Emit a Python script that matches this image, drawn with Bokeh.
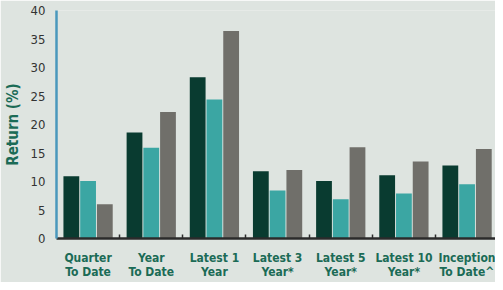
import numpy as np
from bokeh.plotting import figure
from bokeh.models import ColumnDataSource, Range1d, FixedTicker
from bokeh.transform import dodge
from bokeh.embed import file_html
from bokeh.resources import INLINE

categories = ["Quarter\nTo Date", "Year\nTo Date", "Latest 1\nYear", "Latest 3\nYear*",
              "Latest 5\nYear*", "Latest 10\nYear*", "Inception\nTo Date^"]
series_a = [10.9, 18.6, 28.3, 11.8, 10.1, 11.1, 12.8]
series_b = [10.1, 15.9, 24.4, 8.4, 6.9, 7.9, 9.5]
series_c = [6.0, 22.2, 36.4, 12.0, 16.0, 13.5, 15.7]
y_ticks = [0, 5, 10, 15, 20, 25, 30, 35, 40]

colors = ["#093b30", "#3ba6a3", "#706f6a"]
offsets = [-0.265, 0.0, 0.265]
bar_w = 0.25
FONT = "DejaVu Sans Condensed"

centers = np.arange(len(categories)) + 0.5
src = ColumnDataSource(dict(x=centers, a=series_a, b=series_b, c=series_c))

p = figure(width=495, height=282, output_backend="svg", toolbar_location=None,
           x_range=Range1d(0, 6.95), y_range=Range1d(0, 40),
           min_border_left=48, min_border_right=0, min_border_top=10, min_border_bottom=37)
p.background_fill_color = "#dee4e0"
p.border_fill_color = "#dee4e0"
p.outline_line_color = None
p.grid.visible = False

for key, col, off in zip(["a", "b", "c"], colors, offsets):
    p.vbar(x=dodge("x", off), top=key, width=bar_w, source=src, color=col, line_color=None)

# y axis
ya = p.yaxis[0]
ya.ticker = FixedTicker(ticks=y_ticks)
ya.axis_line_color = "#4a98bd"
ya.axis_line_width = 2.5
ya.major_tick_line_color = None
ya.minor_tick_line_color = None
ya.major_label_text_font = FONT
ya.major_label_text_font_size = "13px"
ya.major_label_text_color = "#333333"
ya.major_label_standoff = 5
ya.axis_label = "Return (%)"
ya.axis_label_text_font = FONT
ya.axis_label_text_font_style = "bold"
ya.axis_label_text_font_size = "15px"
ya.axis_label_text_color = "#1b6b56"
ya.axis_label_standoff = 6

# x axis
xa = p.xaxis[0]
xa.ticker = FixedTicker(ticks=list(centers), minor_ticks=list(np.arange(1, len(categories))))
xa.major_label_overrides = {float(c): lab for c, lab in zip(centers, categories)}
xa.axis_line_color = "#2b2b2b"
xa.axis_line_width = 2.5
xa.major_tick_line_color = None
xa.minor_tick_line_color = "#2b2b2b"
xa.minor_tick_line_width = 1.5
xa.minor_tick_in = 4
xa.minor_tick_out = 0
xa.major_label_text_font = FONT
xa.major_label_text_font_style = "bold"
xa.major_label_text_font_size = "12px"
xa.major_label_text_color = "#1b6b56"
xa.major_label_text_line_height = 1.05
xa.major_label_standoff = 6

open("out.html", "w").write(file_html(p, INLINE))
